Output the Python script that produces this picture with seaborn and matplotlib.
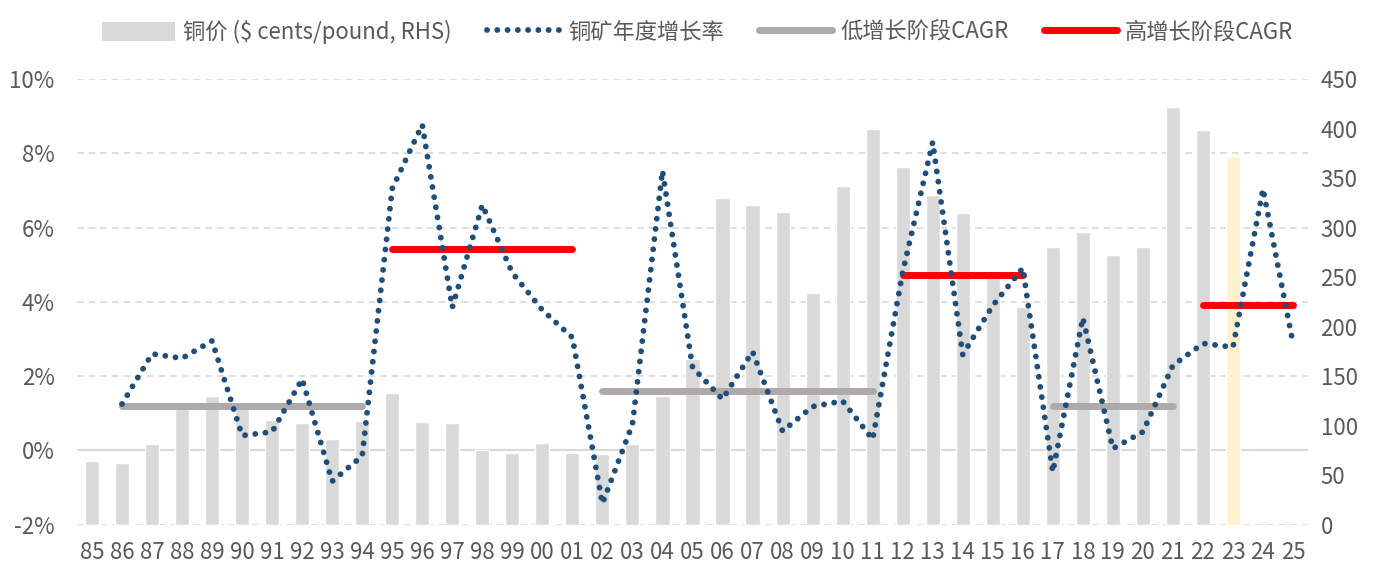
import matplotlib
matplotlib.use("Agg")
import matplotlib.pyplot as plt
import seaborn as sns
import numpy as np
import pandas as pd
from matplotlib.patches import Patch
from matplotlib.lines import Line2D

# ---- data ----
years = ['85', '86', '87', '88', '89', '90', '91', '92', '93', '94',
         '95', '96', '97', '98', '99', '00', '01', '02', '03', '04',
         '05', '06', '07', '08', '09', '10', '11', '12', '13', '14',
         '15', '16', '17', '18', '19', '20', '21', '22', '23', '24', '25']

# copper price, $ cents/pound (RHS); no bar for 24 and 25
copper_price = [64, 62, 81, 119, 130, 118, 106, 103, 87, 105,
                133, 104, 103, 75, 72, 83, 72, 71, 81, 130,
                167, 330, 323, 316, 234, 342, 400, 361, 333, 315,
                249, 220, 280, 296, 272, 280, 422, 399, 372, np.nan, np.nan]

# copper mine annual growth rate, % (starts at 86)
mine_growth = [np.nan, 1.25, 2.6, 2.48, 2.95, 0.4, 0.5, 1.92, -0.83, -0.15,
               7.05, 8.77, 3.85, 6.61, 4.78, 3.78, 3.04, -1.43, 0.7, 7.53,
               2.24, 1.38, 2.66, 0.52, 1.18, 1.33, 0.3, 4.8, 8.3, 2.58,
               3.9, 4.91, -0.58, 3.57, 0.05, 0.5, 2.29, 2.88, 2.78, 7.04, 2.88]

# CAGR phases: start year, end year, rate %, phase
cagr_start = ['86', '95', '02', '12', '17', '22']
cagr_end = ['94', '01', '11', '16', '21', '25']
cagr_value = [1.2, 5.42, 1.59, 4.73, 1.19, 3.91]
cagr_phase = ['low', 'high', 'low', 'high', 'low', 'high']

highlight_year = '23'

BAR_GREY = '#d9d9d9'
BAR_YELLOW = '#fff2cc'
LINE_BLUE = '#1f4e79'
LOW_GREY = '#aeaaaa'
HIGH_RED = '#ff0000'
TEXT = '#595959'

sns.set_theme(style='white')
plt.rcParams['font.family'] = ['Noto Sans CJK SC', 'DejaVu Sans']

df = pd.DataFrame({'year': years, 'pos': np.arange(len(years)),
                   'price': copper_price, 'growth': mine_growth})

fig = plt.figure(figsize=(13.74, 5.65), dpi=100)
ax_bar = fig.add_axes([0.056, 0.0713, 0.896, 0.7889])
ax_line = ax_bar.twinx()

# bars (right axis)
bar_colors = [BAR_YELLOW if y == highlight_year else BAR_GREY for y in years]
sns.barplot(data=df, x='pos', y='price', hue='pos', palette=bar_colors,
            legend=False, width=0.47, saturation=1, ax=ax_bar, zorder=2,
            native_scale=True)

# left-axis percent grid, drawn on the bar axes so bars cover it
pct_ticks = np.arange(-2, 11, 2)
price_max = 450
for p in pct_ticks:
    r = (p - pct_ticks[0]) / (pct_ticks[-1] - pct_ticks[0]) * price_max
    if p == 0:
        ax_bar.axhline(r, color='#d9d9d9', lw=1.5, zorder=1)
    else:
        ax_bar.axhline(r, color='#d9d9d9', lw=1.2, ls=(0, (4, 3)), zorder=1)

ax_bar.set_ylim(0, price_max)
ax_bar.set_yticks(np.arange(0, 451, 50))
ax_bar.yaxis.tick_right()
ax_bar.set_xlim(-0.5, len(years) - 0.5)
ax_bar.set_xticks(np.arange(len(years)))
ax_bar.set_xticklabels(years)

# growth line (left axis)
sns.lineplot(data=df.dropna(subset=['growth']), x='pos', y='growth', ax=ax_line,
             color=LINE_BLUE, lw=4.2, ls=(0, (0.01, 1.75)),
             dash_capstyle='round', zorder=4)

for s, e, v, ph in zip(cagr_start, cagr_end, cagr_value, cagr_phase):
    ax_line.hlines(v, years.index(s), years.index(e),
                   color=HIGH_RED if ph == 'high' else LOW_GREY,
                   lw=5, capstyle='round', zorder=3)

ax_line.set_ylim(pct_ticks[0], pct_ticks[-1])
ax_line.set_yticks(pct_ticks)
ax_line.set_yticklabels([f'{p}%' for p in pct_ticks])
ax_line.yaxis.tick_left()
ax_line.set_xlim(-0.5, len(years) - 0.5)

for a in (ax_bar, ax_line):
    a.set_xlabel('')
    a.set_ylabel('')
    for sp in a.spines.values():
        sp.set_visible(False)
    a.grid(False)
ax_bar.tick_params(axis='x', length=0, pad=12, labelsize=16, labelcolor=TEXT)
ax_bar.tick_params(axis='y', length=0, pad=9, labelsize=16, labelcolor=TEXT)
ax_line.tick_params(axis='y', length=0, pad=16, labelsize=16, labelcolor=TEXT)
ax_line.tick_params(axis='x', length=0, labelbottom=False)

handles = [
    Patch(facecolor=BAR_GREY, edgecolor='none'),
    Line2D([], [], color=LINE_BLUE, lw=4.2, ls=(0, (0.01, 1.75)),
           dash_capstyle='round'),
    Line2D([], [], color=LOW_GREY, lw=5, solid_capstyle='round'),
    Line2D([], [], color=HIGH_RED, lw=5, solid_capstyle='round'),
]
labels = ['铜价 ($ cents/pound, RHS)', '铜矿年度增长率', '低增长阶段CAGR', '高增长阶段CAGR']
leg = fig.legend(handles, labels, loc='upper center', bbox_to_anchor=(0.5076, 1.0),
                 ncol=4, frameon=False, fontsize=16, handlelength=3.3,
                 handleheight=1.0, columnspacing=1.6, handletextpad=0.35)
for t in leg.get_texts():
    t.set_color(TEXT)

fig.savefig('out.png', dpi=100)
